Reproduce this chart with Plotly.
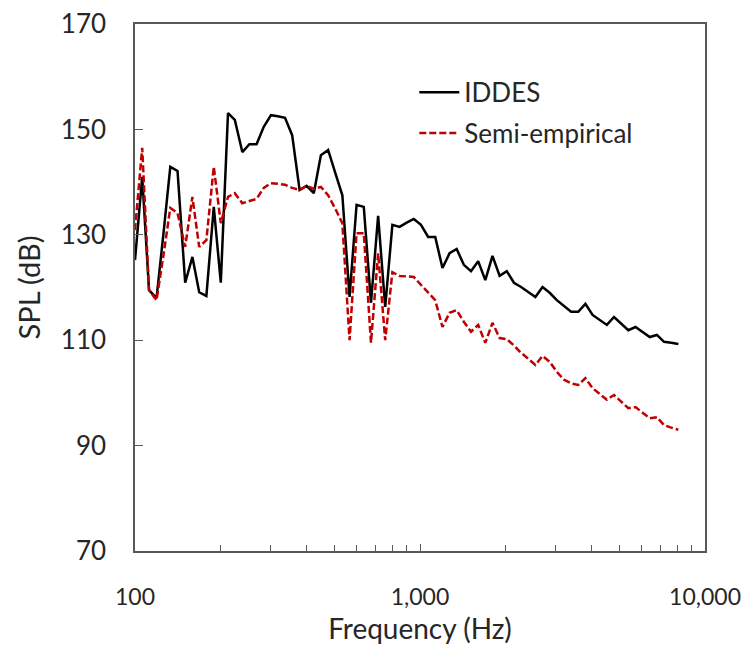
import plotly.graph_objects as go

# 1/12-octave band centre frequencies (Hz)
freq = [100, 106, 112, 119, 126, 133, 141, 150, 159, 168, 178, 189, 200, 212, 224, 238,
        252, 267, 283, 300, 317, 336, 356, 378, 400, 424, 449, 476, 504, 534, 566, 599,
        635, 673, 713, 755, 800, 848, 898, 951, 1008, 1068, 1131, 1199, 1270, 1345, 1425,
        1510, 1600, 1695, 1796, 1903, 2016, 2136, 2263, 2397, 2540, 2691, 2851, 3020, 3200,
        3390, 3592, 3805, 4032, 4271, 4525, 4795, 5080, 5382, 5702, 6041, 6400, 6780, 7184,
        7611, 8063]

iddes = [125.2, 141.0, 119.5, 118.0, 130.5, 142.9, 142.1, 120.9, 125.8, 119.1, 118.4, 135.3,
         120.9, 153.1, 151.8, 145.7, 147.2, 147.2, 150.5, 152.7, 152.5, 152.2, 148.9, 138.5,
         139.3, 137.9, 145.1, 146.1, 141.8, 137.5, 118.2, 135.7, 135.3, 117.1, 133.6, 116.3,
         131.9, 131.5, 132.3, 133.0, 131.9, 129.6, 129.6, 123.7, 126.5, 127.3, 124.3, 123.1,
         125.0, 121.4, 126.0, 122.2, 123.1, 120.9, 120.1, 119.2, 118.2, 120.1, 119.0, 117.6,
         116.5, 115.4, 115.4, 116.9, 114.8, 113.8, 112.9, 114.4, 113.2, 111.9, 112.5, 111.5,
         110.6, 111.0, 109.7, 109.5, 109.3]

semi = [130.9, 146.5, 119.5, 117.6, 126.3, 135.1, 134.1, 127.7, 137.2, 127.7, 129.0, 142.9,
        132.2, 137.2, 137.9, 136.0, 136.4, 136.8, 138.9, 139.8, 139.7, 139.5, 138.9, 138.5,
        139.3, 138.7, 139.1, 137.5, 135.0, 132.2, 110.0, 130.3, 130.3, 109.5, 126.5, 110.0,
        122.9, 122.2, 122.1, 122.0, 120.5, 119.0, 117.6, 112.5, 115.2, 115.7, 113.5, 111.6,
        112.9, 109.5, 113.3, 110.4, 110.2, 109.0, 107.6, 106.5, 105.3, 107.0, 105.9, 104.0,
        102.5, 101.8, 101.5, 102.8, 100.9, 99.8, 98.7, 99.6, 98.3, 97.1, 97.3, 96.2,
        95.2, 95.4, 93.9, 93.4, 93.0]

x_ticks = [100, 1000, 10000]
x_ticktext = ["100", "1,000", "10,000"]
x_minor = [200, 300, 400, 500, 600, 700, 800, 900, 2000, 3000, 4000, 5000, 6000, 7000, 8000, 9000]
y_ticks = [70, 90, 110, 130, 150, 170]

FONT = "Lato, Open Sans, sans-serif"
AX = "#595959"
TXT = "#262626"

fig = go.Figure()
fig.add_trace(go.Scatter(x=freq, y=iddes, mode="lines", name="IDDES",
                         legendgroup="a",
                         line=dict(color="#000000", width=2.5)))
fig.add_trace(go.Scatter(x=freq, y=semi, mode="lines", name="Semi-empirical",
                         legendgroup="b",
                         line=dict(color="#C00000", width=2.5, dash="7px,3px")))

fig.update_layout(
    width=744, height=645,
    margin=dict(l=135, r=39, t=24, b=94, autoexpand=False),
    paper_bgcolor="white", plot_bgcolor="white",
    showlegend=True,
    legend=dict(x=0.49, y=0.915, xanchor="left", yanchor="top",
                font=dict(family=FONT, size=26, color=TXT),
                itemwidth=40,
                bgcolor="rgba(0,0,0,0)", traceorder="grouped", tracegroupgap=4),
    font=dict(family=FONT, size=26, color=TXT),
)
fig.update_xaxes(type="log", range=[2, 4], showgrid=False, zeroline=False,
                 automargin=False,
                 showline=True, linecolor=AX, linewidth=1.5, mirror=True,
                 tickvals=x_ticks, ticktext=x_ticktext, ticklabeloverflow="allow",
                 ticks="inside", ticklen=7, tickcolor=AX, tickwidth=1.2,
                 ticklabelstandoff=25,
                 minor=dict(tickvals=x_minor, ticks="inside", ticklen=6,
                            tickcolor=AX, tickwidth=1.2, showgrid=False),
                 tickfont=dict(family=FONT, size=23, color=TXT),
                 title=dict(text="Frequency (Hz)", standoff=10,
                            font=dict(family=FONT, size=28, color=TXT)))
fig.update_yaxes(range=[70, 170], showgrid=False, zeroline=False,
                 automargin=False,
                 showline=True, linecolor=AX, linewidth=1.5, mirror=True,
                 tickvals=y_ticks, ticks="inside", ticklen=8, tickcolor=AX, tickwidth=1.2,
                 ticklabelstandoff=22,
                 tickfont=dict(family=FONT, size=26, color=TXT),
                 title=dict(text="SPL (dB)", standoff=12,
                            font=dict(family=FONT, size=29, color=TXT)))

fig.write_html("out.html")
